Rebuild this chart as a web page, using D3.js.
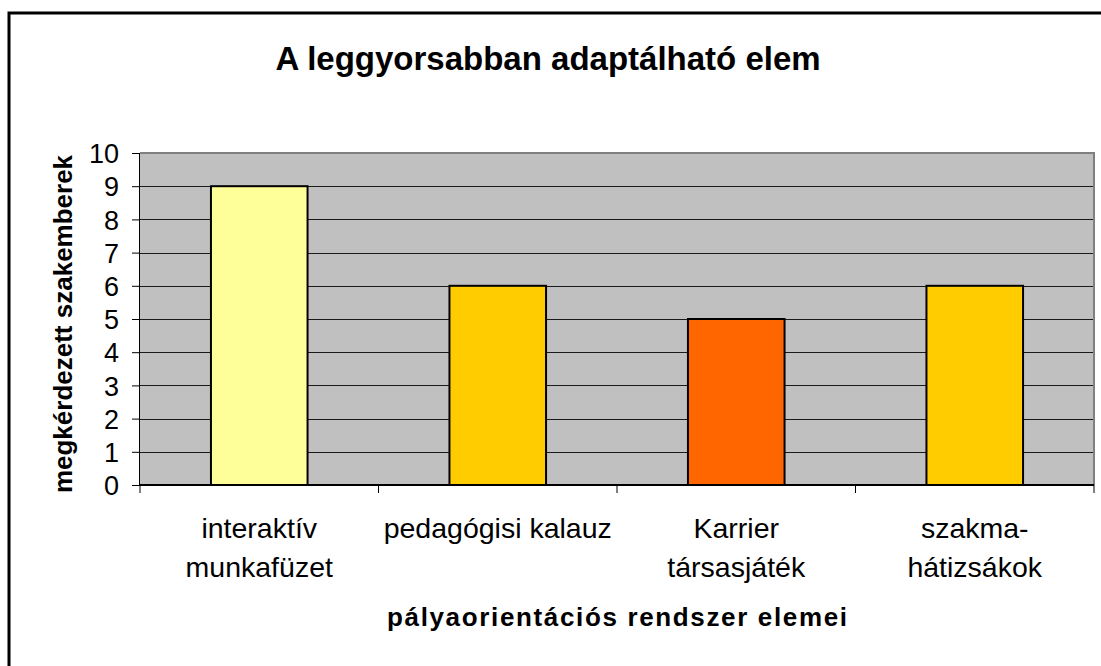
<!DOCTYPE html>
<html>
<head>
<meta charset="utf-8">
<script src="https://cdn.jsdelivr.net/npm/d3@7"></script>
<style>
  html, body { margin: 0; padding: 0; background: #fff; }
  svg { display: block; font-family: Arial, "Liberation Sans", sans-serif; }
</style>
</head>
<body>
<svg id="chart" width="1101" height="666"></svg>
<script>
const categories = [["interaktív", "munkafüzet"], ["pedagógisi kalauz"], ["Karrier", "társasjáték"], ["szakma-", "hátizsákok"]];
const values = [9, 6, 5, 6];
const barColors = ["#FFFF99", "#FFCC00", "#FF6600", "#FFCC00"];
const yTicks = [0, 1, 2, 3, 4, 5, 6, 7, 8, 9, 10];
const title = "A leggyorsabban adaptálható elem";
const xTitle = "pályaorientációs rendszer elemei";
const yTitle = "megkérdezett szakemberek";

const svg = d3.select("#chart");
const plot = { left: 140, right: 1094, top: 153, bottom: 485 };

// outer frame (extends beyond visible area at right/bottom)
svg.append("rect").attr("x", 9).attr("y", 13).attr("width", 1300).attr("height", 900)
  .attr("fill", "none").attr("stroke", "#000").attr("stroke-width", 3);

const x = d3.scaleBand().domain(d3.range(categories.length)).range([plot.left, plot.right]).padding(0);
const y = d3.scaleLinear().domain([0, 10]).range([plot.bottom, plot.top]);

// plot background
svg.append("rect").attr("x", plot.left).attr("y", plot.top)
  .attr("width", plot.right - plot.left).attr("height", plot.bottom - plot.top)
  .attr("fill", "#C0C0C0");

// gridlines
svg.append("g").selectAll("line").data(yTicks.filter(d => d > 0 && d < 10)).join("line")
  .attr("x1", plot.left).attr("x2", plot.right)
  .attr("y1", d => Math.round(y(d)) + 0.5).attr("y2", d => Math.round(y(d)) + 0.5)
  .attr("stroke", "#1a1a1a").attr("stroke-width", 1);

// plot border top/right (gray)
svg.append("path")
  .attr("d", `M${plot.left},${plot.top} H${plot.right} V${plot.bottom}`)
  .attr("fill", "none").attr("stroke", "#808080").attr("stroke-width", 2);

// bars
const bw = x.bandwidth() * 0.405;
svg.append("g").selectAll("rect").data(values).join("rect")
  .attr("x", (d, i) => x(i) + x.bandwidth() / 2 - bw / 2)
  .attr("y", d => y(d))
  .attr("width", bw)
  .attr("height", d => y(0) - y(d))
  .attr("fill", (d, i) => barColors[i])
  .attr("stroke", "#000").attr("stroke-width", 2);

// y axis
const yAxis = d3.axisLeft(y).tickValues(yTicks).tickSize(8).tickPadding(13).tickFormat(d3.format("d"));
const gy = svg.append("g").attr("transform", `translate(${plot.left},0)`).call(yAxis);
gy.select(".domain").attr("stroke", "#000").attr("stroke-width", 1).attr("d", `M-0.5,${plot.top}V${plot.bottom}`);
gy.selectAll(".tick line").attr("stroke", "#000");
gy.selectAll(".tick text").attr("font-size", 27).attr("fill", "#000")
  .attr("font-family", "Arial, 'Liberation Sans', sans-serif").attr("dy", "0.36em");

// x axis
const xAxis = d3.axisBottom(x).tickSize(0).tickFormat("");
const gx = svg.append("g").attr("transform", `translate(0,${plot.bottom})`).call(xAxis);
gx.select(".domain").attr("stroke", "#000").attr("stroke-width", 2).attr("d", `M${plot.left},0H${plot.right}`);
// category separator ticks
const boundaries = d3.range(categories.length + 1).map(i => i < categories.length ? x(i) : plot.right);
gx.append("g").selectAll("line").data(boundaries).join("line")
  .attr("x1", d => d).attr("x2", d => d).attr("y1", 0).attr("y2", 8)
  .attr("stroke", "#000").attr("stroke-width", 1);

// category labels
const labels = svg.append("g").attr("font-size", 28.5).attr("fill", "#000").attr("text-anchor", "middle");
categories.forEach((lines, i) => {
  const t = labels.append("text").attr("x", x(i) + x.bandwidth() / 2).attr("y", 538);
  lines.forEach((ln, j) => {
    t.append("tspan").attr("x", x(i) + x.bandwidth() / 2).attr("y", 538 + j * 39).text(ln);
  });
});

// title
svg.append("text").attr("x", 548).attr("y", 70).attr("text-anchor", "middle")
  .attr("font-size", 33).attr("font-weight", "bold").attr("fill", "#000").text(title);

// x axis title
svg.append("text").attr("x", 617).attr("y", 626).attr("text-anchor", "middle")
  .attr("font-size", 26).attr("font-weight", "bold").attr("fill", "#000")
  .attr("textLength", 460).attr("lengthAdjust", "spacing").text(xTitle);

// y axis title
svg.append("text").attr("transform", `translate(72,324) rotate(-90)`).attr("text-anchor", "middle")
  .attr("font-size", 26).attr("font-weight", "bold").attr("fill", "#000").text(yTitle);
</script>
</body>
</html>
